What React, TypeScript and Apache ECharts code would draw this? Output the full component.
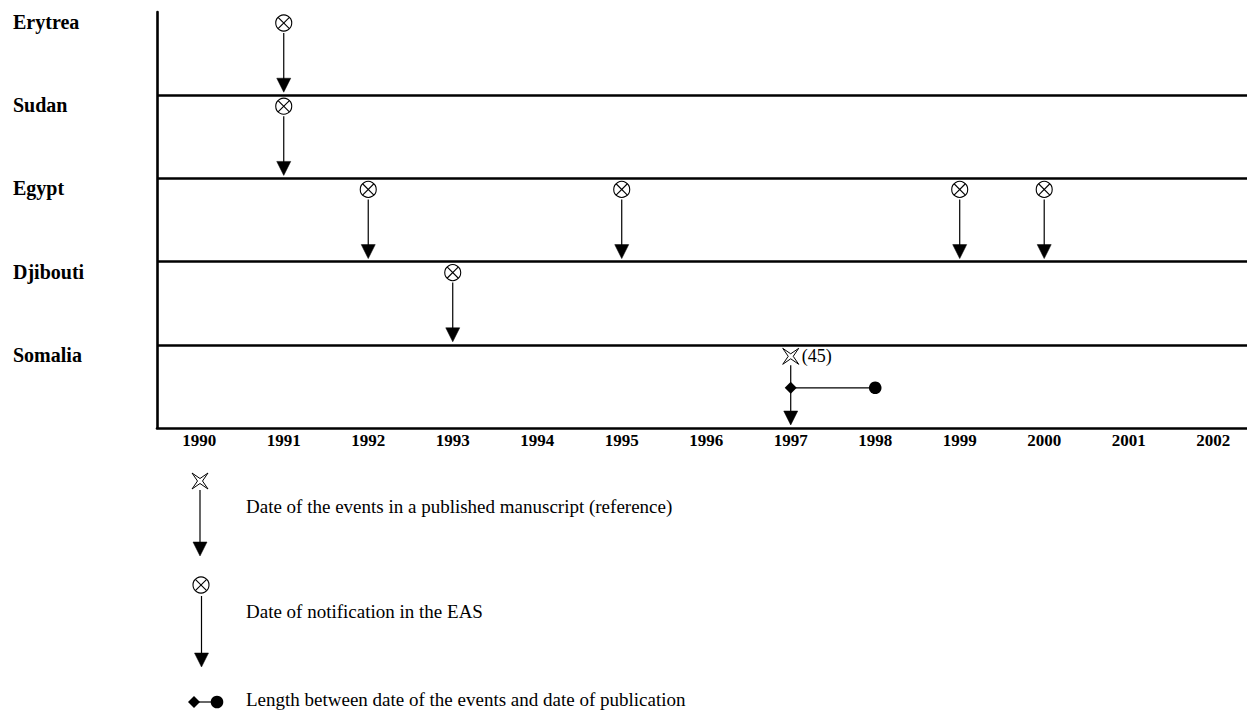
import React, { useEffect, useRef } from 'react';
import * as echarts from 'echarts';

const countries = ['Erytrea', 'Sudan', 'Egypt', 'Djibouti', 'Somalia'];
const years = [1990, 1991, 1992, 1993, 1994, 1995, 1996, 1997, 1998, 1999, 2000, 2001, 2002];

// Date of notification in the EAS: [country, year]
const easNotifications: [string, number][] = [
  ['Erytrea', 1991],
  ['Sudan', 1991],
  ['Egypt', 1992],
  ['Egypt', 1995],
  ['Egypt', 1999],
  ['Egypt', 2000],
  ['Djibouti', 1993],
];

// Date of the events in a published manuscript: [country, year, reference]
const publishedEvents: [string, number, string][] = [['Somalia', 1997, '(45)']];

// Length between date of events and date of publication: [country, from, to]
const publicationGaps: [string, number, number][] = [['Somalia', 1997, 1998]];

const legendLabels = [
  'Date of the events in a published manuscript (reference)',
  'Date of notification in the EAS',
  'Length between date of the events and date of publication',
];

const FONT = '"Liberation Serif", "Times New Roman", Times, serif';
const INK = '#000';

function starPoints(cx: number, cy: number, s: number, i: number) {
  return [
    [cx - s, cy - s], [cx, cy - i], [cx + s, cy - s], [cx + i, cy],
    [cx + s, cy + s], [cx, cy + i], [cx - s, cy + s], [cx - i, cy],
  ];
}

function circleX(cx: number, cy: number, r: number) {
  const d = r * 0.7071;
  return [
    { type: 'circle', shape: { cx, cy, r }, style: { fill: '#fff', stroke: INK, lineWidth: 1.1 } },
    { type: 'line', shape: { x1: cx - d, y1: cy - d, x2: cx + d, y2: cy + d }, style: { stroke: INK, lineWidth: 1.1 } },
    { type: 'line', shape: { x1: cx + d, y1: cy - d, x2: cx - d, y2: cy + d }, style: { stroke: INK, lineWidth: 1.1 } },
  ];
}

function arrow(x: number, y1: number, tip: number) {
  const head = 14;
  return [
    { type: 'line', shape: { x1: x, y1, x2: x, y2: tip - head + 1 }, style: { stroke: INK, lineWidth: 1.2 } },
    { type: 'polygon', shape: { points: [[x - 7, tip - head], [x + 7, tip - head], [x, tip]] }, style: { fill: INK, stroke: INK, lineWidth: 0.5 } },
  ];
}

function diamondDot(x1: number, x2: number, y: number) {
  return [
    { type: 'line', shape: { x1, y1: y, x2, y2: y }, style: { stroke: INK, lineWidth: 1.2 } },
    { type: 'polygon', shape: { points: [[x1, y - 6], [x1 + 6, y], [x1, y + 6], [x1 - 6, y]] }, style: { fill: INK } },
    { type: 'circle', shape: { cx: x2, cy: y, r: 6.3 }, style: { fill: INK } },
  ];
}

export default function App() {
  const ref = useRef<HTMLDivElement>(null);

  useEffect(() => {
    if (!ref.current) return;
    const chart = echarts.init(ref.current, undefined, { renderer: 'svg' });

    const easData = easNotifications.map(([c, y]) => [y, countries.indexOf(c)]);
    const pubData = publishedEvents.map(([c, y, ref]) => ({ value: [y, countries.indexOf(c)], ref }));
    const gapData = publicationGaps.map(([c, a, b]) => [a, countries.indexOf(c), b]);

    const legend: any[] = [];
    // legend 1: star + arrow
    legend.push({ type: 'polygon', shape: { points: starPoints(200, 481, 8, 2.5) }, style: { fill: '#fff', stroke: INK, lineWidth: 1 } });
    legend.push(...arrow(200, 490, 556));
    legend.push({ type: 'text', x: 246, y: 506, style: { text: legendLabels[0], fontFamily: FONT, fontSize: 19, fill: INK, verticalAlign: 'middle' } });
    // legend 2: circle-x + arrow
    legend.push(...circleX(201, 585, 8));
    legend.push(...arrow(201.5, 596, 667));
    legend.push({ type: 'text', x: 246, y: 611, style: { text: legendLabels[1], fontFamily: FONT, fontSize: 19, fill: INK, verticalAlign: 'middle' } });
    // legend 3: diamond - dot
    legend.push(...diamondDot(194, 217, 702));
    legend.push({ type: 'text', x: 246, y: 699, style: { text: legendLabels[2], fontFamily: FONT, fontSize: 19, fill: INK, verticalAlign: 'middle' } });

    chart.setOption({
      animation: false,
      backgroundColor: '#fff',
      grid: { left: 157, right: 0, top: 12, bottom: 282, containLabel: false },
      xAxis: {
        type: 'value',
        min: 1989.5,
        max: 2002.4,
        axisLine: { show: true, onZero: false, lineStyle: { color: INK, width: 2.6 } },
        axisTick: { show: false },
        splitLine: { show: false },
        axisLabel: {
          customValues: years,
          formatter: (v: number) => String(v),
          color: INK,
          fontFamily: FONT,
          fontWeight: 'bold',
          fontSize: 17,
          margin: 4,
        },
      },
      yAxis: {
        type: 'value',
        inverse: true,
        min: 0,
        max: 5,
        interval: 1,
        axisLine: { show: true, onZero: false, lineStyle: { color: INK, width: 2.6 } },
        axisTick: { show: false },
        splitLine: { show: true, showMinLine: false, showMaxLine: false, lineStyle: { color: INK, width: 2.6 } },
        axisLabel: {
          formatter: (v: number) => countries[v] ?? '',
          color: INK,
          fontFamily: FONT,
          fontWeight: 'bold',
          fontSize: 20,
          align: 'left',
          verticalAlign: 'top',
          margin: 144,
        },
      },
      graphic: legend,
      series: [
        {
          type: 'custom',
          name: 'Date of notification in the EAS',
          coordinateSystem: 'cartesian2d',
          clip: false,
          data: easData,
          renderItem: (params: any, api: any) => {
            const x = api.value(0);
            const r = api.value(1);
            const [cx, top] = api.coord([x, r]);
            const [, bottom] = api.coord([x, r + 1]);
            const cy = top + 11;
            return {
              type: 'group',
              children: [...arrow(cx, cy + 10, bottom - 3), ...circleX(cx, cy, 8)],
            };
          },
        },
        {
          type: 'custom',
          name: 'Date of the events in a published manuscript',
          coordinateSystem: 'cartesian2d',
          clip: false,
          data: pubData,
          renderItem: (params: any, api: any) => {
            const x = api.value(0);
            const r = api.value(1);
            const [cx, top] = api.coord([x, r]);
            const [, bottom] = api.coord([x, r + 1]);
            const cy = top + 11.5;
            const refText = pubData[params.dataIndex].ref;
            return {
              type: 'group',
              children: [
                ...arrow(cx, cy + 9, bottom - 3),
                { type: 'polygon', shape: { points: starPoints(cx, cy, 8, 2.5) }, style: { fill: '#fff', stroke: INK, lineWidth: 1 } },
                { type: 'text', x: cx + 11, y: cy, style: { text: refText, fontFamily: FONT, fontSize: 18, fill: INK, verticalAlign: 'middle' } },
              ],
            };
          },
        },
        {
          type: 'custom',
          name: 'Length between date of the events and date of publication',
          coordinateSystem: 'cartesian2d',
          clip: false,
          data: gapData,
          renderItem: (params: any, api: any) => {
            const a = api.value(0);
            const r = api.value(1);
            const b = api.value(2);
            const [x1, top] = api.coord([a, r]);
            const [x2] = api.coord([b, r]);
            return { type: 'group', children: diamondDot(x1, x2, top + 43) };
          },
        },
      ],
    });

    return () => chart.dispose();
  }, []);

  return (
    <div
      ref={ref}
      style={{ position: 'fixed', left: 0, top: 0, width: 1247, height: 710, background: '#fff' }}
    />
  );
}
